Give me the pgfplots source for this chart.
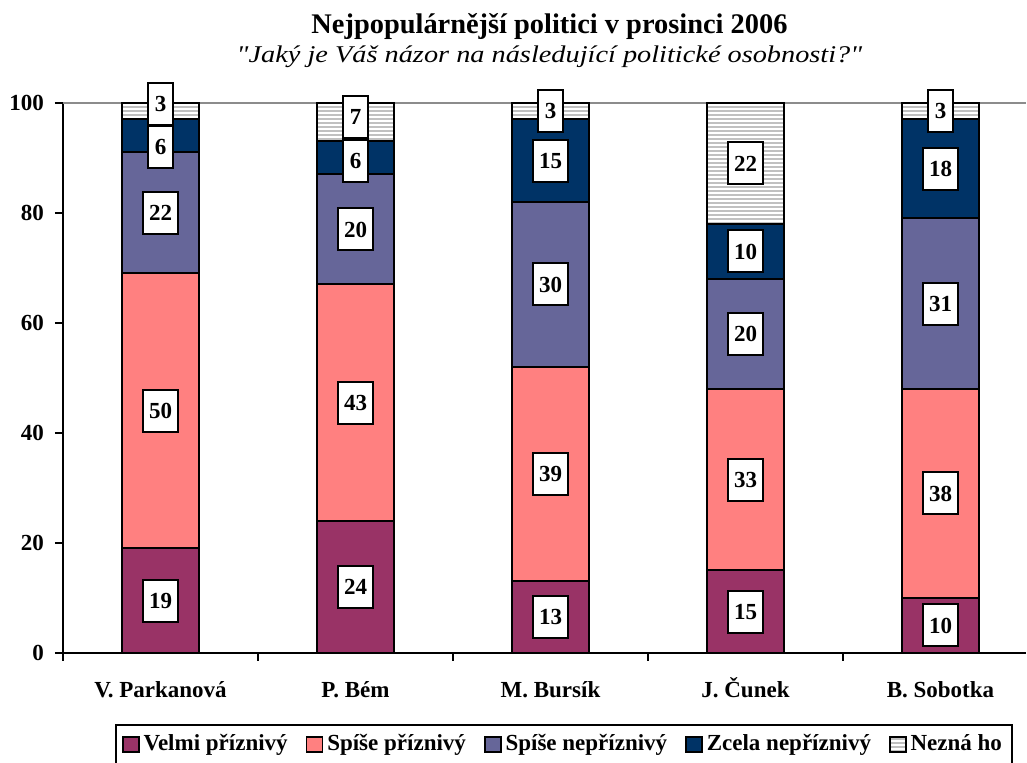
\documentclass[border=0pt]{standalone}
\usepackage{fontspec}
\setmainfont{Liberation Serif}[Ligatures=TeXOff]
\usepackage{pgfplots}
\pgfplotsset{compat=1.18}
\usepackage{pgfplotstable}

\definecolor{velmi}{HTML}{993366}
\definecolor{spisep}{HTML}{FF8080}
\definecolor{spisen}{HTML}{666699}
\definecolor{zcela}{HTML}{003366}
\definecolor{nezna}{HTML}{C0C0C0}

% podily v %, od/oe = posun popisku (v jednotkach osy y), aby se boxy neprekryvaly
\pgfplotstableread{
x a  b  c  d  e  z  od   oe
0 19 50 22 6  3  0  -2   1.3
1 24 43 20 6  7  0  -0.6 0.9
2 13 39 30 15 3  0  0    0
3 15 33 20 10 22 0  0    0
4 10 38 31 18 3  0  0    0
}\hlasy

\tikzset{
  popisek/.style={anchor=center, fill=white, draw=black, line width=1pt,
    opacity=1, draw opacity=1, fill opacity=1, text opacity=1,
    text=black, font=\fontsize{11.5}{13}\selectfont\bfseries, path picture={},
    minimum height=21pt, inner xsep=3.2pt, inner ysep=0pt},
  % vodorovne sede linky pro "Nezna ho"
  linky/.style={path picture={
    \foreach \i in {0.5,2.5,...,90}
      \draw[path picture={}, draw=nezna, fill=none, line width=1pt]
        ([yshift=\i pt]path picture bounding box.south west) --
        ([yshift=\i pt]path picture bounding box.south east);
  }},
}

\pgfplotsset{
  usek/.style 2 args={
    visualization depends on={\thisrow{#1}\as\segv},
    visualization depends on={\thisrow{#2}\as\segoff},
    nodes near coords={\pgfmathprintnumber{\segv}},
    every node near coord/.style={popisek, yshift={\segoff*2.75pt}},
  },
  ctverec/.style={legend image code/.code={\draw[##1, line width=0.8pt] (0pt,-3.75pt) rectangle (8pt,3.75pt);}},
}

\begin{document}
\begin{tikzpicture}
\begin{axis}[
  at={(0,0)}, anchor=south west,
  x=97.5pt, y=2.75pt,
  xmin=-0.5, xmax=4.44, ymin=0, ymax=100,
  ybar stacked, bar width=38.5pt,
  axis x line*=bottom, axis y line*=left,
  axis line style={-, line width=1pt},
  clip=false,
  tick align=outside, major tick length=4pt,
  tick style={black, line width=1pt},
  xtick={-0.5,0.5,1.5,2.5,3.5}, xticklabels={},
  extra x ticks={0,1,2,3,4},
  extra x tick labels={V. Parkanová,P. Bém,M. Bursík,J. Čunek,B. Sobotka},
  extra x tick style={major tick length=0pt,
    xticklabel style={text height=10pt, text depth=0pt, yshift=-8.5pt}},
  ytick={0,20,...,100},
  yticklabel style={xshift=-2pt},
  ticklabel style={font=\fontsize{11.5}{13}\selectfont\bfseries},
  /pgf/number format/assume math mode=true,
  extra y ticks={100}, extra y tick labels={},
  extra y tick style={grid=major, major grid style={gray!90, line width=1pt}},
  legend columns=-1,
  legend style={at={(0.52,-0.166)}, anchor=center, draw=black, line width=1pt,
    font=\fontsize{11.5}{13}\selectfont\bfseries, inner sep=3pt,
    /tikz/every even column/.append style={column sep=7pt}},
  ctverec,
]
\addplot[fill=velmi, draw=black, line width=1pt, usek={a}{z}] table[x=x, y=a]{\hlasy};
\addlegendentry{Velmi příznivý}
\addplot[fill=spisep, draw=black, line width=1pt, usek={b}{z}] table[x=x, y=b]{\hlasy};
\addlegendentry{Spíše příznivý}
\addplot[fill=spisen, draw=black, line width=1pt, usek={c}{z}] table[x=x, y=c]{\hlasy};
\addlegendentry{Spíše nepříznivý}
\addplot[fill=zcela, draw=black, line width=1pt, usek={d}{od}] table[x=x, y=d]{\hlasy};
\addlegendentry{Zcela nepříznivý}
\addplot[fill=white, draw=black, line width=1pt, linky] table[x=x, y=e]{\hlasy};
\addlegendentry{Nezná ho}
% popisky "Nezna ho" zvlast, aby lezely nad srafovanim;
% popisek sedi v polovine hodnoty, proto dvojnasobek stredu useku
\addplot[forget plot, stack plots=false, only marks, mark=*, mark size=0pt,
  mark options={draw opacity=0, fill opacity=0}, usek={e}{z}]
  table[x=x, y expr=2*(\thisrow{a}+\thisrow{b}+\thisrow{c}+\thisrow{d}+0.5*\thisrow{e}+\thisrow{oe})]{\hlasy};
\node[anchor=base, font=\fontsize{14.2}{16}\selectfont\bfseries] at (rel axis cs:0.505,1.127) {Nejpopulárnější politici v prosinci 2006};
\node[anchor=base, font=\fontsize{12}{15}\selectfont\itshape\addfontfeature{FakeStretch=1.18}] at (rel axis cs:0.505,1.0745) {"Jaký je Váš názor na následující politické osobnosti?"};
\end{axis}
\pgfresetboundingbox
\useasboundingbox (-31.5pt,-55pt) rectangle (482pt,326.5pt);
\end{tikzpicture}
\end{document}
